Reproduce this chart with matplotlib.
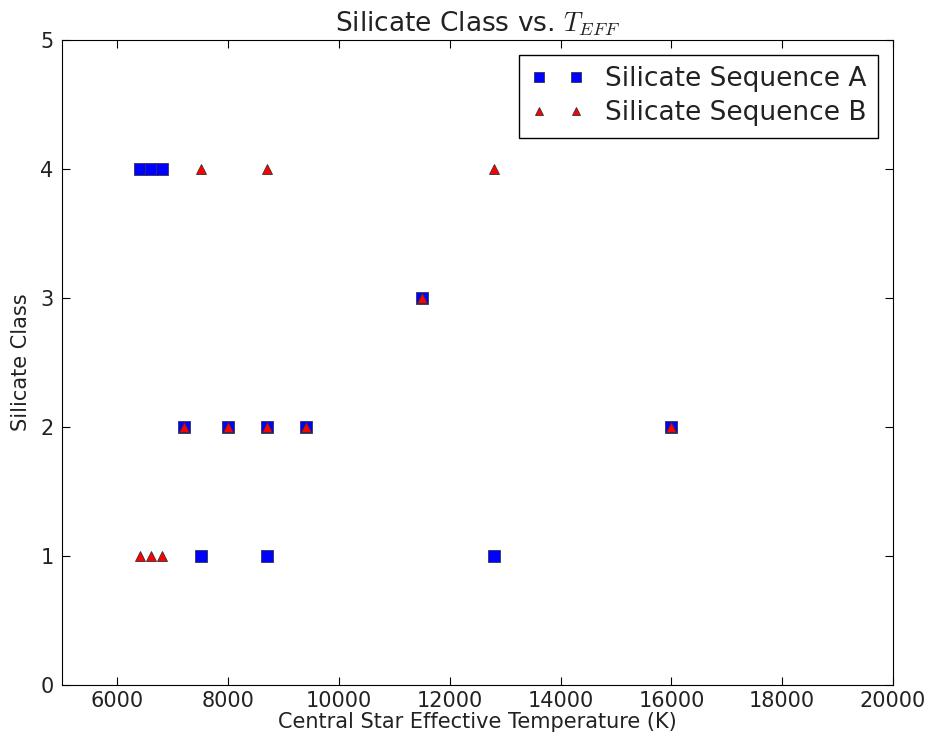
import matplotlib
matplotlib.use('Agg')
import matplotlib.pyplot as plt

# silicate sequence A (squares)
temp_a = [6400, 6600, 6800, 7200, 8000, 8700, 9400, 16000, 11500, 7500, 8700, 12800]
class_a = [4, 4, 4, 2, 2, 2, 2, 2, 3, 1, 1, 1]

# silicate sequence B (triangles)
temp_b = [7500, 8700, 12800, 7200, 8000, 8700, 9400, 16000, 11500, 6400, 6600, 6800]
class_b = [4, 4, 4, 2, 2, 2, 2, 2, 3, 1, 1, 1]

plt.rcParams['font.family'] = 'DejaVu Sans'
plt.rcParams['mathtext.fontset'] = 'cm'

fig = plt.figure(figsize=(9.3, 7.4), dpi=100)
ax = fig.add_axes([0.0667, 0.0743, 0.8935, 0.8716])

ax.plot(temp_a, class_a, 's', color='blue', markersize=8.5,
        markeredgecolor='#333355', markeredgewidth=0.6, label='Silicate Sequence A')
ax.plot(temp_b, class_b, '^', color='red', markersize=7.5,
        markeredgecolor='#333333', markeredgewidth=0.6, label='Silicate Sequence B')

ax.set_xlim(5000, 20000)
ax.set_ylim(0, 5)
ax.set_xticks(range(6000, 20001, 2000))
ax.set_yticks(range(0, 6))
ax.tick_params(direction='in', top=True, right=True, length=6, labelsize=15,
               labelcolor='#222222')
ax.tick_params(axis='x', pad=4)
ax.tick_params(axis='y', pad=6)

ax.set_xlabel('Central Star Effective Temperature (K)', fontsize=15, labelpad=1,
              color='#222222')
ax.set_ylabel('Silicate Class', fontsize=15, labelpad=7, color='#222222')
ax.set_title('Silicate Class vs. $T_{EFF}$', fontsize=19, pad=6, color='#222222')

leg = ax.legend(loc='upper right', numpoints=2, markerscale=0.8, fontsize=19,
                fancybox=False, framealpha=1, edgecolor='black',
                borderaxespad=0.55, handlelength=2.0, borderpad=0.45,
                labelspacing=0.3)
for t in leg.get_texts():
    t.set_color('#222222')
leg.get_frame().set_linewidth(1.0)

fig.savefig('out.png', dpi=100, facecolor='white')
